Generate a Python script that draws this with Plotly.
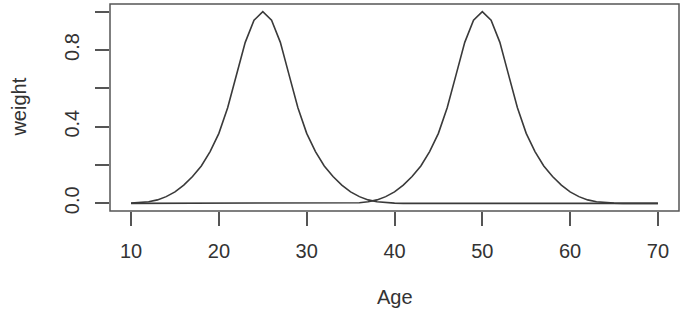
import plotly.graph_objects as go

ages = list(range(10, 71))

# weight curve centred at age 25 (values read at integer ages 10..70)
weight_25 = [0.001, 0.003, 0.008, 0.018, 0.035, 0.060, 0.095, 0.140, 0.195, 0.270,
             0.365, 0.499, 0.669, 0.840, 0.955, 1.0, 0.955, 0.840, 0.669, 0.499,
             0.365, 0.270, 0.195, 0.140, 0.095, 0.060, 0.035, 0.018, 0.008, 0.003,
             0.001, 0.0] + [0.0] * 29

# weight curve centred at age 50
weight_50 = [0.0] * 24 + [0.0, 0.001, 0.003, 0.008, 0.018, 0.035, 0.060, 0.095,
             0.140, 0.195, 0.270, 0.365, 0.499, 0.669, 0.840, 0.955, 1.0, 0.955,
             0.840, 0.669, 0.499, 0.365, 0.270, 0.195, 0.140, 0.095, 0.060, 0.035,
             0.018, 0.008, 0.003, 0.001, 0.0] + [0.0] * 4

x_ticks = [10, 20, 30, 40, 50, 60, 70]
x_tick_labels = ["10", "20", "30", "40", "50", "60", "70"]
y_ticks = [0.0, 0.2, 0.4, 0.6, 0.8, 1.0]
y_tick_labels = ["0.0", "", "0.4", "", "0.8", ""]

FONT = "Liberation Sans, Arial, Helvetica, sans-serif"
LINE = "#3a3a3a"
TXT = "#333333"
FS = 20

fig = go.Figure()
for ys in (weight_25, weight_50):
    fig.add_trace(go.Scatter(x=ages, y=ys, mode="lines",
                             line=dict(color=LINE, width=1.6),
                             showlegend=False, hoverinfo="skip"))

fig.update_layout(
    width=685, height=327,
    margin=dict(l=110, r=5.5, t=3.5, b=116, autoexpand=False),
    paper_bgcolor="white", plot_bgcolor="white",
    font=dict(family=FONT, size=FS, color=TXT),
    showlegend=False,
    xaxis=dict(range=[7.6, 72.4], showgrid=False, zeroline=False, showline=False,
               automargin=False,
               tickmode="array", tickvals=x_ticks, ticktext=x_tick_labels,
               ticks="outside", ticklen=14, tickwidth=1.5, tickcolor="#555555",
               ticklabelstandoff=8),
    yaxis=dict(range=[-0.04, 1.04], showgrid=False, zeroline=False, showline=False,
               automargin=False,
               tickmode="array", tickvals=y_ticks, ticktext=y_tick_labels,
               ticks="outside", ticklen=14, tickwidth=1.5, tickcolor="#555555",
               tickangle=-90, ticklabelstandoff=8),
    shapes=[dict(type="rect", xref="paper", yref="paper", x0=0, x1=1, y0=0, y1=1,
                 line=dict(color="#555555", width=1.5))],
    annotations=[
        dict(text="weight", xref="paper", yref="paper", x=-0.1615, y=0.5,
             xanchor="center", yanchor="middle", textangle=-90, showarrow=False,
             font=dict(family=FONT, size=FS, color=TXT)),
        dict(text="Age", xref="paper", yref="paper", x=0.5, y=-0.414,
             xanchor="center", yanchor="middle", showarrow=False,
             font=dict(family=FONT, size=FS, color=TXT)),
    ],
)

fig.write_html("out.html", config={"displayModeBar": False},
               post_script="document.body.style.margin='0';document.body.style.overflow='hidden';")
